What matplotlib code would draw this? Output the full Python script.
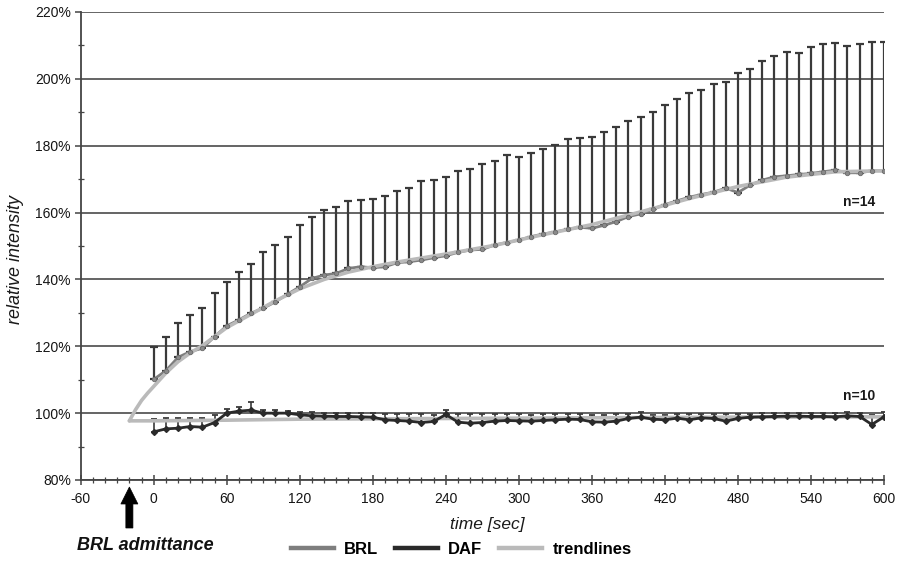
import numpy as np
import matplotlib
matplotlib.use("Agg")
import matplotlib.pyplot as plt
from matplotlib.patches import Polygon
from matplotlib.lines import Line2D
from matplotlib.ticker import MultipleLocator, FuncFormatter
from matplotlib.transforms import blended_transform_factory

plt.rcParams['font.family'] = ['Liberation Sans', 'DejaVu Sans']
plt.rcParams['axes.unicode_minus'] = False

# sampling times [s]
time_s = list(range(0, 601, 10))

# BRL: mean relative intensity [%] and upper SD
brl_mean = [110.1, 112.7, 116.7, 118.4, 119.4, 122.9, 126.1, 127.9, 129.9, 131.4,
            133.3, 135.6, 137.8, 140.3, 141.3, 141.8, 143.3, 143.8, 143.5, 143.8,
            145.0, 145.3, 145.8, 146.5, 147.1, 148.1, 148.8, 149.0, 150.3, 151.0,
            151.8, 152.8, 153.6, 154.2, 155.0, 155.6, 155.3, 156.2, 157.3, 158.8,
            159.6, 161.0, 162.4, 163.5, 164.6, 165.4, 166.1, 167.3, 166.0, 168.2,
            169.7, 170.7, 171.0, 171.4, 171.7, 172.2, 172.7, 171.9, 171.9, 172.5,
            172.5]
brl_sd = [9.8, 10.2, 10.4, 11.0, 12.0, 13.1, 13.1, 14.2, 14.7, 16.7,
          17.1, 17.2, 18.4, 18.3, 19.5, 20.0, 20.3, 20.0, 20.7, 21.2,
          21.5, 22.0, 23.6, 23.2, 23.6, 24.2, 24.1, 25.4, 25.2, 26.3,
          24.7, 25.1, 25.4, 26.0, 26.9, 26.8, 27.2, 27.9, 28.4, 28.7,
          28.9, 29.2, 29.8, 30.6, 31.1, 31.3, 32.4, 31.9, 35.7, 34.6,
          35.6, 36.2, 36.9, 36.3, 37.9, 38.1, 38.1, 37.9, 38.5, 38.4,
          38.4]

# DAF: mean relative intensity [%] and upper SD
daf_mean = [94.4, 95.3, 95.5, 96.0, 95.8, 97.2, 100.0, 100.6, 100.9, 100.0,
            100.0, 100.0, 99.5, 99.2, 99.1, 99.0, 99.0, 98.9, 98.8, 98.0,
            97.8, 97.6, 97.2, 97.5, 99.6, 97.3, 97.0, 97.2, 97.6, 97.8,
            97.7, 97.6, 97.8, 98.0, 98.2, 98.1, 97.4, 97.3, 97.6, 98.4,
            98.8, 98.2, 98.0, 98.5, 98.0, 98.6, 98.4, 97.6, 98.4, 98.8,
            98.9, 99.0, 99.1, 99.1, 99.0, 99.0, 98.9, 99.2, 99.0, 96.6,
            98.9]
daf_sd = [3.9, 3.1, 2.9, 2.4, 2.6, 2.2, 1.1, 1.3, 2.5, 1.0,
          1.0, 0.6, 0.8, 1.0, 1.0, 1.1, 1.0, 1.1, 1.2, 1.6,
          1.8, 2.0, 2.4, 2.0, 1.3, 2.3, 2.6, 2.4, 2.0, 1.8,
          1.9, 1.9, 1.8, 1.6, 1.5, 1.6, 2.1, 2.2, 2.0, 1.4,
          1.5, 1.3, 1.5, 1.2, 1.7, 1.2, 1.3, 2.0, 1.4, 1.0,
          1.0, 1.0, 1.0, 1.0, 1.0, 1.0, 1.0, 1.0, 1.0, 2.7,
          1.3]

# trendlines, starting at BRL admittance (t = -20 s)
brl_trend_t = [-20, -15, -10, -5, 0, 10, 20, 30, 40, 60, 80, 100, 120, 140, 160,
               180, 200, 240, 280, 320, 360, 400, 440, 480, 520, 560, 600]
brl_trend_v = [97.7, 101.0, 103.8, 106.0, 108.0, 112.0, 115.4, 118.0, 120.2, 125.6,
               129.6, 133.6, 137.2, 140.0, 142.2, 143.8, 145.2, 147.6, 150.2, 153.4,
               156.4, 160.2, 164.2, 167.8, 170.6, 172.2, 172.5]
daf_trend_t = [-20, 0, 60, 120, 240, 360, 480, 600]
daf_trend_v = [97.7, 97.7, 97.9, 98.2, 98.4, 98.6, 98.8, 98.9]

admittance_t = -20

C_BRL = '#7e7e7e'
C_DAF = '#2a2a2a'
C_TREND = '#bababa'
C_ERR = '#3a3a3a'

fig = plt.figure(figsize=(8.98, 5.70), dpi=100)
ax = fig.add_axes([80.7 / 898, 1 - 480 / 570, (884 - 80.7) / 898, 468 / 570])

t = np.array(time_s)
ax.errorbar(t, brl_mean, yerr=[np.zeros(len(t)), brl_sd], fmt='none',
            ecolor=C_ERR, elinewidth=1.6, capsize=2.8, capthick=1.6, zorder=2)
ax.errorbar(t, daf_mean, yerr=[np.zeros(len(t)), daf_sd], fmt='none',
            ecolor=C_ERR, elinewidth=1.2, capsize=2.2, capthick=1.3, zorder=2)

ax.plot(t, brl_mean, color=C_BRL, lw=2.0, zorder=3)
ax.plot(t, daf_mean, color=C_DAF, lw=2.0, zorder=3)
ax.plot(brl_trend_t, brl_trend_v, color=C_TREND, lw=2.6, zorder=4,
        solid_capstyle='round', solid_joinstyle='round')
ax.plot(daf_trend_t, daf_trend_v, color=C_TREND, lw=2.6, zorder=2.5,
        solid_capstyle='round')
ax.plot(t, brl_mean, ls='none', marker='o', ms=3.2, mfc='#8a8a8a', mec='#6a6a6a',
        mew=0.6, zorder=5)
ax.plot(t, daf_mean, ls='none', marker='D', ms=3.0, mfc=C_DAF, mec=C_DAF, zorder=5)

ax.set_xlim(-60, 600)
ax.set_ylim(80, 220)
ax.xaxis.set_major_locator(MultipleLocator(60))
ax.xaxis.set_minor_locator(MultipleLocator(10))
ax.yaxis.set_major_locator(MultipleLocator(20))
ax.yaxis.set_minor_locator(MultipleLocator(10))
ax.yaxis.set_major_formatter(FuncFormatter(lambda v, p: f"{v:.0f}%"))

ax.yaxis.grid(True, which='major', color='#4a4a4a', lw=1.2)
ax.set_axisbelow(True)
for s in ('top', 'right'):
    ax.spines[s].set_visible(False)
for s in ('left', 'bottom'):
    ax.spines[s].set_color('#444444')
    ax.spines[s].set_linewidth(1.3)

ax.tick_params(axis='x', which='major', direction='inout', length=7, width=1.1,
               color='#444444', labelsize=10, pad=5, labelcolor='#151515')
ax.tick_params(axis='x', which='minor', direction='inout', length=4, width=0.9,
               color='#444444')
ax.tick_params(axis='y', which='major', direction='out', length=4, width=1.1,
               color='#444444', labelsize=10, pad=3, labelcolor='#151515')
ax.tick_params(axis='y', which='minor', direction='inout', length=4, width=0.9,
               color='#444444')

# sample sizes
fig.text(859.5 / 898, 1 - 201.7 / 570, 'n=14', ha='center', va='center',
         fontsize=10, fontweight='bold', color='#1a1a1a')
fig.text(859.5 / 898, 1 - 396.5 / 570, 'n=10', ha='center', va='center',
         fontsize=10, fontweight='bold', color='#1a1a1a')

# axis titles
fig.text(16 / 898, 1 - 260 / 570, 'relative intensity', rotation=90, ha='center',
         va='center', fontsize=13, style='italic', color='#1a1a1a')
fig.text(487 / 898, 1 - 524 / 570, 'time [sec]', ha='center', va='center',
         fontsize=12.5, style='italic', color='#1a1a1a')

# BRL admittance marker below the time axis
blend = blended_transform_factory(ax.transData, ax.transAxes)
y_tip, y_base, y_tail = -7 / 468, -24 / 468, -48 / 468
hw, sw = 7.0, 2.9
arrow = Polygon([(admittance_t, y_tip), (admittance_t + hw, y_base),
                 (admittance_t + sw, y_base), (admittance_t + sw, y_tail),
                 (admittance_t - sw, y_tail), (admittance_t - sw, y_base),
                 (admittance_t - hw, y_base)], closed=True, transform=blend,
                clip_on=False, facecolor='black', edgecolor='black', lw=0.5)
ax.add_patch(arrow)
fig.text(145.5 / 898, 1 - 545 / 570, 'BRL admittance', ha='center', va='center',
         fontsize=13, fontweight='bold', style='italic', color='#111111')

handles = [Line2D([], [], color=C_BRL, lw=3.2),
           Line2D([], [], color=C_DAF, lw=3.2),
           Line2D([], [], color=C_TREND, lw=3.2)]
fig.legend(handles, ['BRL', 'DAF', 'trendlines'], loc='center',
           bbox_to_anchor=(461 / 898, 1 - 549 / 570), ncol=3, frameon=False,
           handlelength=2.6, handletextpad=0.6, columnspacing=1.0,
           prop={'weight': 'bold', 'size': 12})

fig.savefig('out.png', dpi=100)
